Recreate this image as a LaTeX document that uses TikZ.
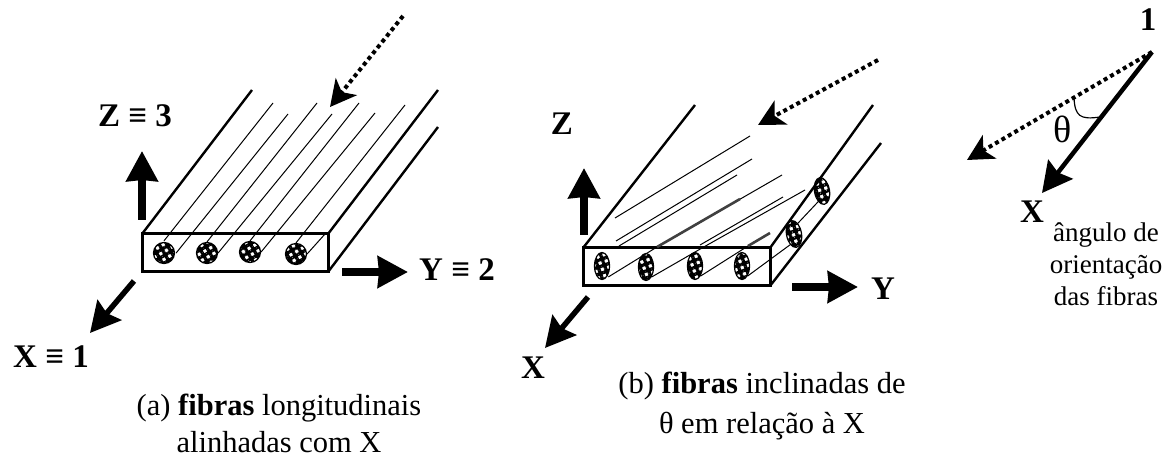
\documentclass[tikz,border=0pt]{standalone}
\usepackage{amsmath, amssymb}
\usepackage{fontspec}
\setmainfont{Liberation Serif}
\usetikzlibrary{arrows.meta, patterns.meta, shapes.geometric}

\begin{document}
\begin{tikzpicture}[
    x=1pt, y=-1pt,
    fibraA/.style={circle, draw, line width=1.2pt, inner sep=0pt, minimum size=21pt,
                   pattern={Hatch[angle=30, distance=6.6pt, line width=3.3pt]}},
    fibraB/.style={ellipse, draw, line width=1.2pt, inner sep=0pt, minimum width=15pt,
                   minimum height=27pt,
                   pattern={Hatch[angle=20, distance=6.6pt, line width=3.3pt]}},
    borda/.style={line width=2.4pt},
    caixa/.style={line width=3pt},
    fio/.style={line width=1pt},
    eixo/.style={-{Stealth[length=30pt, width=31pt, inset=1pt]}, line width=7.5pt},
    eixox/.style={-{Stealth[length=30pt, width=31pt, inset=4pt]}, line width=5.5pt},
    feixe/.style={-{Stealth[length=26pt, width=27pt, inset=7pt]}, line width=4pt,
                  dash pattern=on 4pt off 3.4pt},
    eixotxt/.style={font=\fontsize{33}{35}\selectfont\bfseries},
    legenda/.style={font=\fontsize{30.5}{37}\selectfont, align=center},
    nota/.style={font=\fontsize{27}{32}\selectfont, align=center}
  ]
    \useasboundingbox (0,0) rectangle (1168,457);

    % (a) fibras longitudinais
    \coordinate (a1) at (142,234);
    \coordinate (a2) at (328,234);
    \coordinate (a3) at (328,272);
    \coordinate (a4) at (142,272);
    \coordinate (aa) at (252,90);
    \coordinate (ab) at (438,90);
    \coordinate (ac) at (438,127);
    \draw[caixa] (a1) -- (a2) -- (a3) -- (a4) -- cycle;
    \draw[borda] (a1) -- (aa);
    \draw[borda] (a2) -- (ab);
    \draw[borda] (a3) -- (ac);

    \node[fibraA] (fa1) at (164,253) {};
    \node[fibraA] (fa2) at (207,253) {};
    \node[fibraA] (fa3) at (250,252) {};
    \node[fibraA] (fa4) at (296,254) {};

    \coordinate (fa1s) at (273,103);
    \coordinate (fa1e) at (288,114);
    \coordinate (fa2s) at (317,103);
    \coordinate (fa2e) at (332,114);
    \coordinate (fa3s) at (359,103);
    \coordinate (fa3e) at (375,113);
    \coordinate (fa4s) at (405,105);
    \coordinate (fa4e) at (325,234);
    \draw[fio] (fa1.north) -- (fa1s);
    \draw[fio] (fa1.east) -- (fa1e);
    \draw[fio] (fa2.north) -- (fa2s);
    \draw[fio] (fa2.east) -- (fa2e);
    \draw[fio] (fa3.north) -- (fa3s);
    \draw[fio] (fa3.east) -- (fa3e);
    \draw[fio] (fa4.north) -- (fa4s);
    \draw[fio] (fa4.east) -- (fa4e);

    \node[eixotxt] (za) at (135,116) {Z ≡ 3};
    \node[eixotxt] (ya) at (457,270) {Y ≡ 2};
    \node[eixotxt] (xa) at (51,357) {X ≡ 1};
    \coordinate (zai) at (142,220);
    \coordinate (zaf) at (142,151);
    \coordinate (yai) at (342,272);
    \coordinate (yaf) at (408,272);
    \coordinate (xai) at (134,281);
    \coordinate (xaf) at (90,333);
    \draw[eixo] (zai) -- (zaf);
    \draw[eixo] (yai) -- (yaf);
    \draw[eixox] (xai) -- (xaf);
    \coordinate (lai) at (403,16);
    \coordinate (laf) at (330,107);
    \draw[feixe] (lai) -- (laf);

    \node[legenda] (lega) at (279,423) {(a) \textbf{fibras} longitudinais\\alinhadas com X};

    % (b) fibras inclinadas
    \coordinate (b1) at (583,248);
    \coordinate (b2) at (770,248);
    \coordinate (b3) at (770,286);
    \coordinate (b4) at (583,286);
    \coordinate (ba) at (695,105);
    \coordinate (bb) at (873,105);
    \coordinate (bc) at (881,143);
    \draw[caixa] (b1) -- (b2) -- (b3) -- (b4) -- cycle;
    \draw[borda] (b1) -- (ba);
    \draw[borda] (b2) -- (bb);
    \draw[borda] (b3) -- (bc);

    \node[fibraB] (fb1) at (602,266) {};
    \node[fibraB] (fb2) at (646,267) {};
    \node[fibraB] (fb3) at (695,266) {};
    \node[fibraB] (fb4) at (742,266) {};
    \node[fibraB, rotate=10] (fb5) at (794,234) {};
    \node[fibraB, rotate=10] (fb6) at (822,191) {};

    \coordinate (f1i) at (615,218);
    \coordinate (f1f) at (750,136);
    \coordinate (f2i) at (616,241);
    \coordinate (f2f) at (752,159);
    \coordinate (f3i) at (619,246);
    \coordinate (f3f) at (737,175);
    \coordinate (f4i) at (657,247);
    \coordinate (f4f) at (782,175);
    \coordinate (f5f) at (740,199);
    \coordinate (f6i) at (700,245);
    \coordinate (f6f) at (783,197);
    \coordinate (f7i) at (702,248);
    \coordinate (f7f) at (805,190);
    \coordinate (f8i) at (748,246);
    \coordinate (f8f) at (770,233);
    \draw[fio] (f1i) -- (f1f);
    \draw[fio] (f2i) -- (f2f);
    \draw[fio] (f3i) -- (f3f);
    \draw[fio] (f4i) -- (f4f);
    \draw[line width=2.6pt, black!75] (f4i) -- (f5f);
    \draw[fio] (f6i) -- (f6f);
    \draw[fio] (f7i) -- (f7f);
    \draw[line width=2.6pt, black!75] (f8i) -- (f8f);
    \draw[fio] (fb1.-60) -- (f4i);
    \draw[fio] (fb2.-60) -- (f7i);
    \draw[fio] (fb3.-60) -- (f8i);
    \draw[fio] (fb4.-60) -- (fb5.-120);
    \draw[fio] (fb5.60) -- (fb6.-120);

    \node[eixotxt] (zb) at (562,124) {Z};
    \node[eixotxt] (yb) at (883,289) {Y};
    \node[eixotxt] (xb) at (533,368) {X};
    \coordinate (zbi) at (584,235);
    \coordinate (zbf) at (584,168);
    \coordinate (ybi) at (792,287);
    \coordinate (ybf) at (858,287);
    \coordinate (xbi) at (588,297);
    \coordinate (xbf) at (545,348);
    \draw[eixo] (zbi) -- (zbf);
    \draw[eixo] (ybi) -- (ybf);
    \draw[eixox] (xbi) -- (xbf);
    \coordinate (lbi) at (878,60);
    \coordinate (lbf) at (758,125);
    \draw[feixe] (lbi) -- (lbf);

    \node[legenda] (legb) at (762,406) {(b) \textbf{fibras} inclinadas de\\[3pt]θ em relação à X};

    % angulo de orientacao
    \coordinate (c0) at (1152,52);
    \coordinate (cx) at (1042,193);
    \coordinate (cl) at (967,160);
    \coordinate (ci) at (1074,98);
    \coordinate (cf) at (1100,117);
    \draw[eixox, line width=4.5pt] (c0) -- (cx);
    \draw[feixe] (c0) -- (cl);
    \draw[line width=1.2pt] (ci) .. controls (1075,116) and (1080,120) .. (cf);

    \node[eixotxt] (um) at (1148,20) {1};
    \node[eixotxt] (xc) at (1032,212) {X};
    \node[font=\fontsize{38}{40}\selectfont] (th) at (1063,129) {θ};
    \node[nota] (notac) at (1106,264) {ângulo de\\orientação\\das fibras};
  \end{tikzpicture}
\end{document}
